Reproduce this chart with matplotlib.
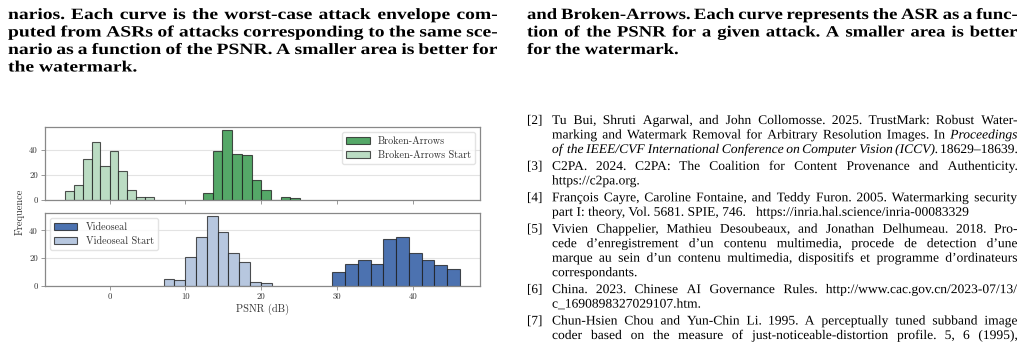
import numpy as np
import matplotlib
matplotlib.use('Agg')
import matplotlib.pyplot as plt
from matplotlib.ticker import MultipleLocator
from matplotlib.textpath import TextPath
from matplotlib.patches import PathPatch
from matplotlib.font_manager import FontProperties
from matplotlib.transforms import Affine2D

# histogram data (PSNR bin edges in dB, counts)
ba_start_edges = [-5.90, -4.72, -3.53, -2.34, -1.19, 0.00, 1.15, 2.34, 3.53, 4.72, 5.90]
ba_start_counts = [7, 12, 33, 47, 27, 39, 23, 8, 2, 2]
ba_edges = [12.33, 13.61, 14.89, 16.16, 17.44, 18.72, 19.99, 21.27, 22.55, 23.82, 25.10]
ba_counts = [5, 39, 56, 37, 36, 16, 8, 0, 2, 1]
vs_start_edges = [7.17, 8.55, 9.95, 11.36, 12.80, 14.27, 15.68, 17.10, 18.50, 19.95, 21.36]
vs_start_counts = [5, 4, 21, 35, 50, 39, 24, 17, 3, 2]
vs_edges = [29.37, 31.08, 32.76, 34.44, 36.10, 37.82, 39.50, 41.18, 42.84, 44.52, 46.24]
vs_counts = [10, 16, 19, 16, 34, 35, 24, 19, 15, 12]

# surrounding page text (True = justified line, *...* = italic)
left_caption = [
    ("narios. Each curve is the worst-case attack envelope com-", True),
    ("puted from ASRs of attacks corresponding to the same sce-", True),
    ("nario as a function of the PSNR. A smaller area is better for", True),
    ("the watermark.", False),
]
right_caption = [
    ("and Broken-Arrows. Each curve represents the ASR as a func-", True),
    ("tion of the PSNR for a given attack. A smaller area is better", True),
    ("for the watermark.", False),
]
references = [
    ("[2]", [("Tu Bui, Shruti Agarwal, and John Collomosse. 2025. TrustMark: Robust Water-", True),
             ("marking and Watermark Removal for Arbitrary Resolution Images. In *Proceedings*", True),
             ("*of the IEEE/CVF International Conference on Computer Vision (ICCV).* 18629\u201318639.", True)]),
    ("[3]", [("C2PA. 2024. C2PA: The Coalition for Content Provenance and Authenticity.", True),
             ("https://c2pa.org.", False)]),
    ("[4]", [("Fran\u00e7ois Cayre, Caroline Fontaine, and Teddy Furon. 2005. Watermarking security", True),
             ("part I: theory, Vol. 5681. SPIE, 746.   https://inria.hal.science/inria-00083329", False)]),
    ("[5]", [("Vivien Chappelier, Mathieu Desoubeaux, and Jonathan Delhumeau. 2018. Pro-", True),
             ("cede d\u2019enregistrement d\u2019un contenu multimedia, procede de detection d\u2019une", True),
             ("marque au sein d\u2019un contenu multimedia, dispositifs et programme d\u2019ordinateurs", True),
             ("correspondants.", False)]),
    ("[6]", [("China. 2023. Chinese AI Governance Rules. http://www.cac.gov.cn/2023-07/13/", True),
             ("c_1690898327029107.htm.", False)]),
    ("[7]", [("Chun-Hsien Chou and Yun-Chin Li. 1995. A perceptually tuned subband image", True),
             ("coder based on the measure of just-noticeable-distortion profile.  5, 6 (1995),", True)]),
]

W, H = 1024, 346
SERIF = 'Liberation Serif'
plt.rcParams['font.family'] = 'cmr10'
plt.rcParams['mathtext.fontset'] = 'cm'
plt.rcParams['axes.unicode_minus'] = False

fig = plt.figure(figsize=(W / 100, H / 100), dpi=100)


def fprop(weight='normal', italic=False):
    return FontProperties(family=SERIF, weight=weight, style='italic' if italic else 'normal')


def split_words(line):
    words = []
    italic = False
    for w in line.split():
        if w.startswith('*'):
            italic = True
            w = w[1:]
        it = italic
        if w.endswith('*'):
            w = w[:-1]
            italic = False
        words.append((w, it))
    return words


def advance(s, size, fp):
    return TextPath((0, 0), s, size=size, prop=fp).get_extents().x1


def put(s, x, y, size, fp, sx):
    # text drawn as paths so that every word sits on the same baseline
    path = TextPath((0, 0), s, size=size, prop=fp)
    tr = Affine2D().scale(sx, 1).translate(x, H - y)
    fig.add_artist(PathPatch(path, transform=tr, facecolor='black', edgecolor='none', lw=0))


def stretch(lines, width, size, weight):
    # horizontal stretch so that justified lines never need squeezed spaces
    space = advance('a a', size, fprop(weight)) - advance('aa', size, fprop(weight))
    ratios = []
    for line, just in lines:
        if just:
            ws = split_words(line)
            nat = sum(advance(w, size, fprop(weight, it)) for w, it in ws) + space * (len(ws) - 1)
            ratios.append(width / nat)
    return min(ratios) * 1.01


def draw_line(line, just, x0, x1, y, size, weight, sx):
    if not just:
        put(line, x0, y, size, fprop(weight), sx)
        return
    ws = split_words(line)
    widths = [advance(w, size, fprop(weight, it)) * sx for w, it in ws]
    gap = (x1 - x0 - sum(widths)) / (len(ws) - 1)
    x = x0
    for (w, it), wd in zip(ws, widths):
        put(w, x, y, size, fprop(weight, it), sx)
        x += wd + gap


# captions
cap_size = 11.3 * 100 / 72
for x0, x1, lines in [(8, 497, left_caption), (527, 1017, right_caption)]:
    sx = stretch(lines, x1 - x0, cap_size, 'bold')
    for i, (line, just) in enumerate(lines):
        draw_line(line, just, x0, x1, 19 + 17.5 * i, cap_size, 'bold', sx)

# references
ref_size = 9.5 * 100 / 72
ref_x0, ref_x1 = 552, 1017
ref_sx = stretch([l for _, ls in references for l in ls], ref_x1 - ref_x0, ref_size, 'normal')
y = 124
for label, lines in references:
    put(label, 527, y, ref_size, fprop(), 1.0)
    for line, just in lines:
        draw_line(line, just, ref_x0, ref_x1, y, ref_size, 'normal', ref_sx)
        y += 14.5
    y += 2.4

# chart
ax1 = fig.add_axes([45 / W, 1 - 199.5 / H, 435 / W, 72.5 / H])
ax2 = fig.add_axes([45 / W, 1 - 286 / H, 435 / W, 73 / H], sharex=ax1)

dark_edge = (0.1, 0.1, 0.1, 0.75)


def hist(ax, edges, counts, color, label):
    edges = np.asarray(edges)
    ax.bar(edges[:-1], counts, width=np.diff(edges), align='edge', color=color,
           edgecolor=dark_edge, linewidth=0.8, label=label)


hist(ax1, ba_edges, ba_counts, '#55a868', 'Broken-Arrows')
hist(ax1, ba_start_edges, ba_start_counts, '#bbdcc3', 'Broken-Arrows Start')
hist(ax2, vs_edges, vs_counts, '#4c72b0', 'Videoseal')
hist(ax2, vs_start_edges, vs_start_counts, '#b7c7df', 'Videoseal Start')

for ax in (ax1, ax2):
    ax.set_axisbelow(True)
    ax.grid(axis='y', color='#e3e3e3', linewidth=0.8)
    ax.yaxis.set_major_locator(MultipleLocator(20))
    ax.xaxis.set_major_locator(MultipleLocator(10))
    ax.tick_params(labelsize=6.3, length=3, width=0.6, color='#888888',
                   labelcolor='#333333', pad=2)
    for s in ax.spines.values():
        s.set_color('#888888')
        s.set_linewidth(0.9)
ax1.tick_params(labelbottom=False)

leg_kw = dict(fontsize=7.3, frameon=True, fancybox=True, edgecolor='#dddddd',
              handlelength=2.3, borderaxespad=0.5, labelcolor='#333333')
ax1.legend(loc='upper right', **leg_kw)
ax2.legend(loc='upper left', **leg_kw)

ax2.set_xlabel('PSNR (dB)', fontsize=7.5, color='#333333', labelpad=2)
fig.text(20 / W, 1 - 212 / H, 'Frequence', rotation=90, fontsize=7.5,
         color='#333333', ha='center', va='center')

fig.savefig('out.png', dpi=100)
